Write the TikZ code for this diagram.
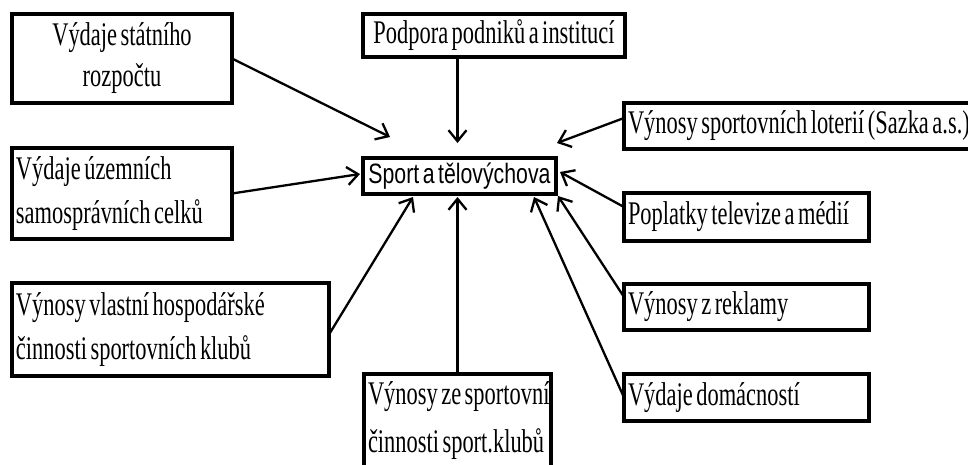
\documentclass[tikz,border=0pt]{standalone}
\usepackage{fontspec}
\setmainfont{Liberation Serif}[FakeStretch=0.68]
\newfontfamily\sportfont{Liberation Sans}[FakeStretch=0.76]
\newcommand\boxfnt{\fontsize{33}{44}\selectfont}
\newcommand\tightsp{\spaceskip=3.5pt\xspaceskip=3.5pt\relax}
\newcommand\sportfnt{\sportfont\fontsize{28}{32}\selectfont\fontdimen2\font=6.5pt\relax}
\usetikzlibrary{arrows.meta,calc}
\begin{document}
\begin{tikzpicture}[x=1pt,y=-1pt,
  box/.style={draw, line width=4.5pt, outer sep=0pt, inner xsep=4pt, inner ysep=0pt,
    font=\boxfnt, execute at begin node=\tightsp},
  arr/.style={line width=2.3pt, -{Straight Barb[length=11pt,width=18pt,line width=2.3pt]}}]
\useasboundingbox (0,0) rectangle (968,464);
\clip (0,0) rectangle (968,464);
\fill[white] (0,0) rectangle (968,464);

\node[box, minimum width=220pt, minimum height=89pt, text width=212pt, align=center] (b1) at (122,58.5) {Výdaje státního\\[-3pt]rozpočtu};
\node[box, minimum width=262pt, minimum height=43pt, text width=254pt, align=center] (b2) at (494,35.5) {\mbox{Podpora podniků a institucí}};
\node[box, minimum width=193pt, minimum height=36pt, font=\sportfnt] (s) at (459.5,176) {Sport a tělovýchova};
\node[box, minimum width=376pt, minimum height=46pt, text width=368pt, align=left] (b4) at (812,126) {\mbox{Výnosy sportovních loterií (Sazka a.s.)}};
\node[box, minimum width=245pt, minimum height=48pt, text width=237pt, align=left] (b5) at (746.5,217) {\mbox{Poplatky televize a médií}};
\node[box, minimum width=245pt, minimum height=46pt, text width=237pt, align=left] (b6) at (746.5,307) {\mbox{Výnosy z reklamy}};
\node[box, minimum width=245pt, minimum height=47pt, text width=237pt, align=left] (b7) at (746.5,397.5) {\mbox{Výdaje domácností}};
\node[box, minimum width=187pt, minimum height=93pt, text width=179pt, align=left] (b8) at (457.5,420.5) {\mbox{Výnosy ze sportovní}\\[4pt]\mbox{činnosti sport.klubů}};
\node[box, minimum width=220pt, minimum height=91pt, text width=212pt, align=left] (b9) at (122,193.5) {\mbox{Výdaje územních}\\\mbox{samosprávních celků}};
\node[box, minimum width=317pt, minimum height=93pt, text width=309pt, align=left] (b10) at (170.5,329.5) {\mbox{Výnosy vlastní hospodářské}\\\mbox{činnosti sportovních klubů}};

\draw[arr] (b1.east) -- ($(s.north west)+(27,-21)$);
\draw[arr] ($(b2.south -| s.north)+(-2,0)$) -- ($(s.north)+(-2,-15)$);
\draw[arr] ($(b4.west)+(0,-8)$) -- ($(s.north east)+(1,-15)$);
\draw[arr] ($(b5.west)+(0,-10)$) -- ($(s.east)+(4,-4)$);
\draw[arr] (b9.east) -- ($(s.west)+(-3,-2)$);
\draw[arr] ($(b10.east)+(0,5)$) -- ($(s.south west)+(50,3)$);
\draw[arr] (b8.north) -- ($(b8.north |- s.south)+(0,3)$);
\draw[arr] ($(b6.west)+(0,-10)$) -- ($(s.south east)+(2,2)$);
\draw[arr] (b7.west) -- ($(s.south east)+(-22,3)$);
\end{tikzpicture}
\end{document}
